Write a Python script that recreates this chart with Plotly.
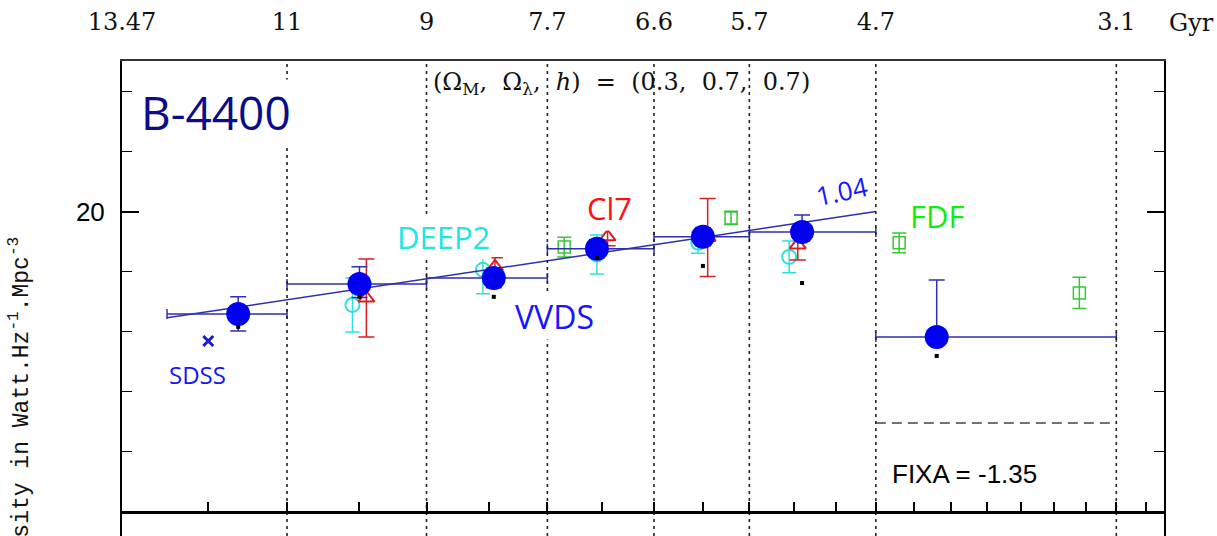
import math
import plotly.graph_objects as go

# ---- luminosity density B-4400 versus redshift -------------------------
# this work: redshift bins, mean redshift and log10 luminosity density
z_lo = [0.051, 0.2, 0.4, 0.6, 0.8, 1.0, 1.3]
z_hi = [0.2, 0.4, 0.6, 0.8, 1.0, 1.3, 2.0]
z_mean = [0.137, 0.30, 0.508, 0.69, 0.90, 1.12, 1.46]
rho = [19.66, 19.76, 19.78, 19.877, 19.917, 19.933, 19.583]
rho_err_up = [0.057, 0.057, 0.033, 0.03, 0.03, 0.057, 0.19]
rho_err_dn = [0.057, 0.045, 0.033, 0.03, 0.03, 0.03, 0.0]
# uncorrected values (small black dots)
rho_raw = [19.617, 19.717, 19.717, 19.847, 19.82, 19.763, 19.52]

# power-law fit rho ~ (1+z)^1.04
fit_slope = 1.04
fit_zero = 19.625
fit_z = [0.051, 1.3]

# lower limit in the last bin
limit_z = [1.3, 2.0]
limit_rho = [19.297, 19.297]

# SDSS
sdss_z = [0.1]
sdss_rho = [19.57]

# DEEP2
deep_z = [0.29, 0.49, 0.69, 0.89, 1.09]
deep_rho = [19.69, 19.807, 19.858, 19.897, 19.85]
deep_err = [0.09, 0.08, 0.065, 0.035, 0.053]

# COMBO-17
c17_z = [0.31, 0.51, 0.71, 0.91, 1.11]
c17_rho = [19.713, 19.817, 19.917, 19.915, 19.89]
c17_err = [0.13, 0.03, 0.03, 0.13, 0.05]

# FDF
fdf_z = [0.63, 0.96, 1.36, 1.88]
fdf_rho = [19.883, 19.98, 19.897, 19.73]
fdf_err = [0.033, 0.022, 0.033, 0.052]

# age of the universe (Gyr) at the bin edges, for (0.3, 0.7, 0.7)
age_z = [0.0, 0.2, 0.4, 0.6, 0.8, 1.0, 1.3, 2.0]
age_labels = ["13.47", "11", "9", "7.7", "6.6", "5.7", "4.7", "3.1"]

# bottom axis tick marks every 0.1 in z
tick_z = [round(0.1 * k, 1) for k in range(1, 22)]

Y_RANGE = [18.92, 20.503]
X_RANGE = [0.0, 0.5]          # log10(1+z)

def opz(zs):
    return [1.0 + z for z in zs]

BLUE = "#0000f0"
BLUE_LINE = "#2f2fb0"
CYAN = "#30dede"
RED = "#d82020"
GREEN = "#36c836"

fig = go.Figure()

# dotted vertical lines at the age labels
vx, vy = [], []
for z in age_z[1:]:
    vx += [1.0 + z, 1.0 + z, None]
    vy += [Y_RANGE[0], Y_RANGE[1], None]
fig.add_trace(go.Scatter(x=vx, y=vy, mode="lines", xaxis="x2",
                         line=dict(color="#222222", width=1.6, dash="3px,4px"),
                         hoverinfo="skip", showlegend=False))

# DEEP2
fig.add_trace(go.Scatter(
    x=opz(deep_z), y=deep_rho, mode="markers",
    marker=dict(symbol="circle-open", size=14, color=CYAN, line=dict(width=2, color=CYAN)),
    error_y=dict(type="data", array=deep_err, color=CYAN, thickness=1.5, width=7),
    showlegend=False))

# COMBO-17
fig.add_trace(go.Scatter(
    x=opz(c17_z), y=c17_rho, mode="markers",
    marker=dict(symbol="triangle-up-open", size=14, color=RED, line=dict(width=2, color=RED)),
    error_y=dict(type="data", array=c17_err, color=RED, thickness=1.5, width=8),
    showlegend=False))

# FDF
fig.add_trace(go.Scatter(
    x=opz(fdf_z), y=fdf_rho, mode="markers",
    marker=dict(symbol="square-open", size=12, color=GREEN, line=dict(width=1.5, color=GREEN)),
    error_y=dict(type="data", array=fdf_err, color=GREEN, thickness=1.5, width=7),
    showlegend=False))

# SDSS
fig.add_trace(go.Scatter(
    x=opz(sdss_z), y=sdss_rho, mode="markers",
    marker=dict(symbol="x-thin-open", size=10, color="#1a1ad0", line=dict(width=3, color="#1a1ad0")),
    showlegend=False))

# fit line
fit_rho = [fit_zero + fit_slope * math.log10(1.0 + z) for z in fit_z]
fig.add_trace(go.Scatter(x=opz(fit_z), y=fit_rho, mode="lines",
                         line=dict(color=BLUE_LINE, width=1.5), showlegend=False))

# lower limit, last bin
fig.add_trace(go.Scatter(x=opz(limit_z), y=limit_rho, mode="lines",
                         line=dict(color="#444444", width=1.5, dash="10px,6px"),
                         showlegend=False))

# this work
fig.add_trace(go.Scatter(
    x=opz(z_mean), y=rho, mode="markers",
    marker=dict(symbol="circle", size=24, color=BLUE),
    error_x=dict(type="data", array=[h - m for h, m in zip(z_hi, z_mean)],
                 arrayminus=[m - l for m, l in zip(z_mean, z_lo)],
                 color=BLUE_LINE, thickness=1.5, width=5),
    error_y=dict(type="data", array=rho_err_up, arrayminus=rho_err_dn,
                 color=BLUE_LINE, thickness=1.5, width=8),
    showlegend=False))

fig.add_trace(go.Scatter(
    x=opz(z_mean), y=rho_raw, mode="markers",
    marker=dict(symbol="square", size=4, color="black"),
    showlegend=False))

SERIF = "DejaVu Serif"
HAND = "Open Sans"

fig.update_layout(
    width=1217, height=536,
    margin=dict(l=122, r=53, t=61, b=0),
    paper_bgcolor="white", plot_bgcolor="white",
    showlegend=False,
    xaxis=dict(type="log", range=X_RANGE, anchor="free",
               position=(19.0 - Y_RANGE[0]) / (Y_RANGE[1] - Y_RANGE[0]),
               showline=True, linewidth=2.5, linecolor="black",
               ticks="inside", ticklen=9, tickwidth=1.5, tickcolor="black",
               tickmode="array", tickvals=opz(tick_z),
               showticklabels=False, showgrid=False, zeroline=False),
    xaxis2=dict(type="log", range=X_RANGE, overlaying="x", side="top", anchor="y",
                showline=True, linewidth=1.5, linecolor="#333333",
                ticks="", tickmode="array", tickvals=opz(age_z), ticktext=age_labels,
                ticklabelstandoff=20,
                tickfont=dict(family=SERIF, size=24, color="#111111"),
                showgrid=False, zeroline=False),
    yaxis=dict(range=Y_RANGE, showline=True, linewidth=2, linecolor="black",
               mirror="ticks", ticks="inside", ticklen=17, tickwidth=1.5, tickcolor="black",
               tickmode="array", tickvals=[20], ticktext=["20"],
               ticklabelstandoff=10,
               tickfont=dict(family="Liberation Sans", size=26, color="black"),
               minor=dict(tickmode="array",
                          tickvals=[19.0, 19.2, 19.4, 19.6, 19.8, 20.2, 20.4],
                          ticks="inside", ticklen=10, tickwidth=1.2, tickcolor="black"),
               showgrid=False, zeroline=False),
)

ann = [
    dict(text="B-4400", x=0.0902, y=0.8926, font=dict(family=HAND, size=46, color="#0b0b8c"),
         bgcolor="white"),
    dict(text="SDSS", x=0.072, y=0.339, font=dict(family=HAND, size=24, color="#1515ff")),
    dict(text="DEEP2", x=0.309, y=0.629, font=dict(family=HAND, size=31, color="#22e5e5"),
         bgcolor="white"),
    dict(text="VVDS", x=0.4155, y=0.463, font=dict(family=HAND, size=32, color="#1515ff"),
         bgcolor="white"),
    dict(text="Cl7", x=0.468, y=0.6905, font=dict(family=HAND, size=31, color="#ff1010"),
         bgcolor="white"),
    dict(text="1.04", x=0.691, y=0.726, textangle=-12,
         font=dict(family=HAND, size=26, color="#1515ff")),
    dict(text="FDF", x=0.783, y=0.674, font=dict(family=HAND, size=31, color="#10ee10"),
         bgcolor="white"),
    dict(text="FIXA = -1.35", x=0.809, y=0.1305,
         font=dict(family="Liberation Sans", size=26, color="black")),
    dict(text="(Ω<sub>M</sub>,  Ω<sub>λ</sub>,  <i>h</i>)  =  (0.3,  0.7,  0.7)",
         x=0.479, y=0.9516, font=dict(family=SERIF, size=24, color="#111111")),
    dict(text="Gyr", x=1.026, y=1.08, font=dict(family=SERIF, size=24, color="#111111")),
    dict(text="Luminosity density in Watt.Hz<sup>-1</sup>.Mpc<sup>-3</sup>",
         x=-0.098, y=0.6337, yanchor="top", textangle=-90,
         font=dict(family="Liberation Mono", size=23, color="#111111")),
]
for a in ann:
    a.setdefault("xanchor", "center")
    a.setdefault("yanchor", "middle")
    fig.add_annotation(xref="paper", yref="paper", showarrow=False, **a)

fig.write_html("out.html")
